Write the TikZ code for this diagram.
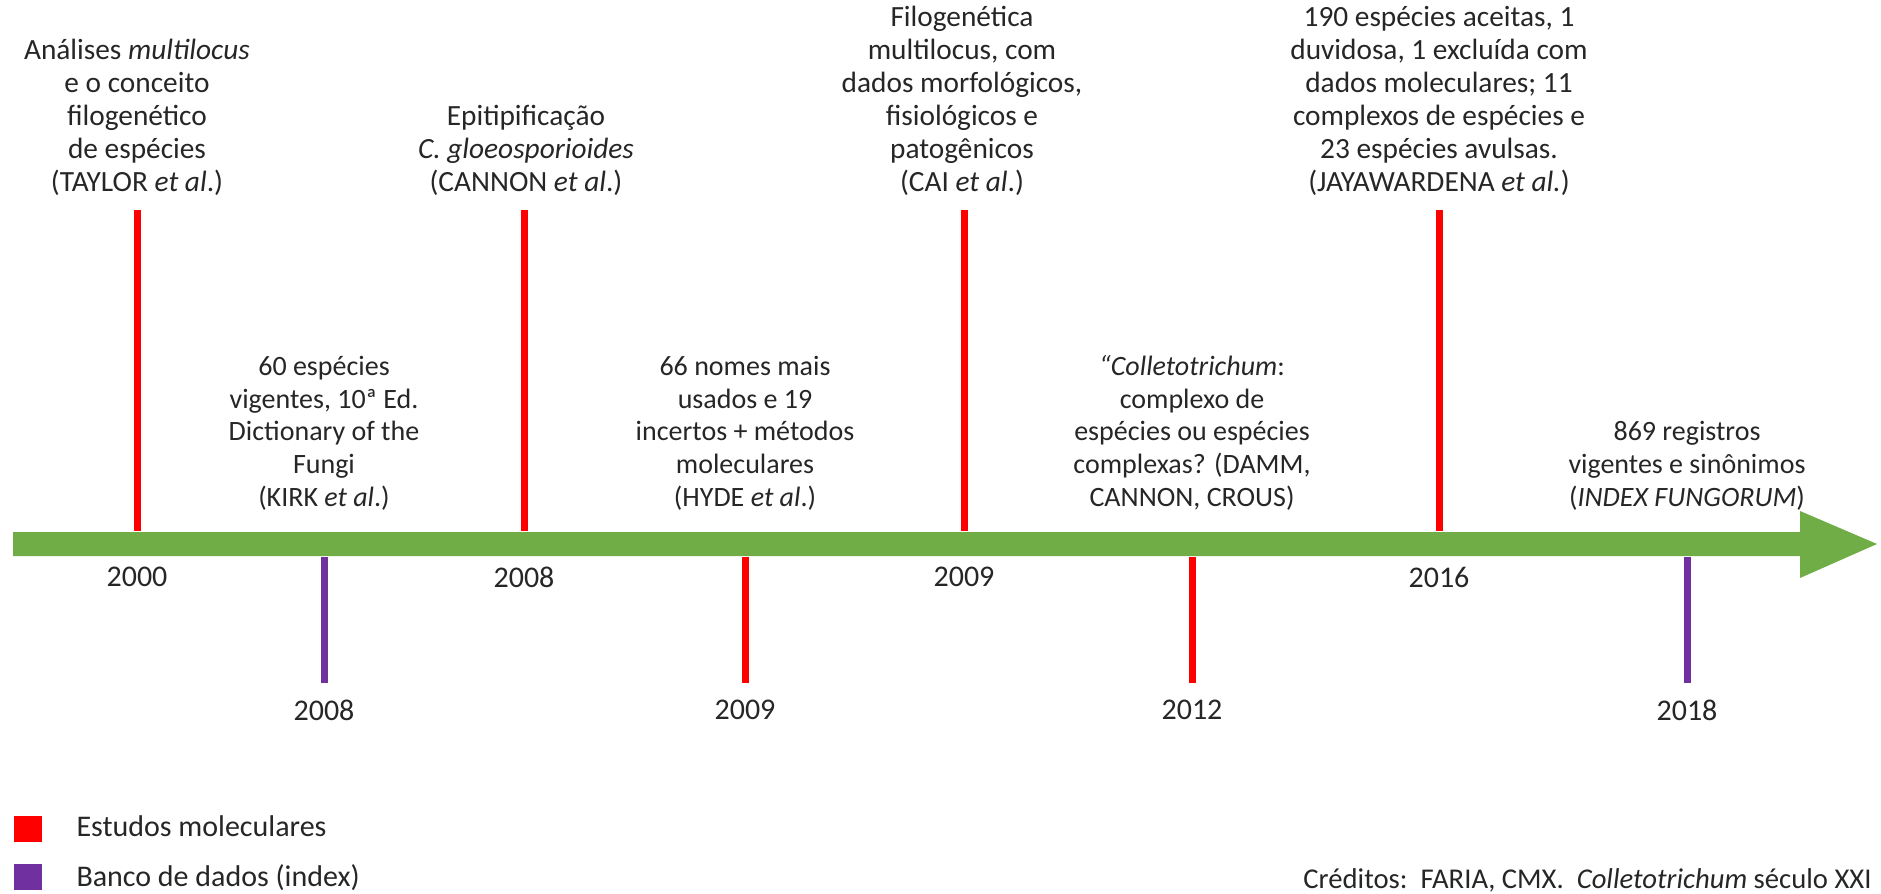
\documentclass[tikz,border=0pt]{standalone}
\usepackage{fontspec}
\setmainfont{Carlito}
\definecolor{molred}{RGB}{255,0,0}
\definecolor{bancopurple}{RGB}{112,48,160}
\definecolor{axisgreen}{RGB}{112,173,71}
\tikzset{every picture/.style={line width=0.75pt}}
\tikzset{
  molec/.style={draw=molred, line width=5.25pt},
  banco/.style={draw=bancopurple, line width=5.25pt},
  evtxt/.style={align=center, inner sep=0pt, anchor=base, text=black!85, font=\fontsize{22}{24.75}\selectfont},
  midtxt/.style={evtxt, font=\fontsize{21}{24.4}\selectfont},
  ano/.style={inner sep=0pt, text=black!85, font=\fontsize{22.5}{24}\selectfont},
  legtxt/.style={inner sep=0pt, anchor=base west, text=black!85, font=\fontsize{22.5}{26}\selectfont},
  legbox/.style={inner sep=0pt, minimum width=21pt, minimum height=19.5pt}
}

\begin{document}
\begin{tikzpicture}[x=0.75pt,y=0.75pt,yscale=-1,xscale=1]
    \useasboundingbox (0,0) rectangle (1881,893);

    %Shape: Arrow (time axis)
    \fill [axisgreen] (13,532) -- (1800,532) -- (1800,511) -- (1877,544) -- (1800,578) -- (1800,556) -- (13,556) -- cycle ;

    % tick ends
    \coordinate (t2000a) at (137,210);  \coordinate (t2000b) at (137,531);
    \coordinate (t2008a) at (524,210);  \coordinate (t2008b) at (524,531);
    \coordinate (t2009a) at (964,210);  \coordinate (t2009b) at (964,531);
    \coordinate (t2016a) at (1439,210); \coordinate (t2016b) at (1439,531);
    \coordinate (b2008a) at (324,557);  \coordinate (b2008b) at (324,683);
    \coordinate (b2009a) at (745,557);  \coordinate (b2009b) at (745,683);
    \coordinate (b2012a) at (1192,557); \coordinate (b2012b) at (1192,683);
    \coordinate (b2018a) at (1687,557); \coordinate (b2018b) at (1687,683);

    %Straight Lines (ticks)
    \draw [molec] (t2000a) -- (t2000b) ;
    \draw [molec] (t2008a) -- (t2008b) ;
    \draw [molec] (t2009a) -- (t2009b) ;
    \draw [molec] (t2016a) -- (t2016b) ;
    \draw [banco] (b2008a) -- (b2008b) ;
    \draw [molec] (b2009a) -- (b2009b) ;
    \draw [molec] (b2012a) -- (b2012b) ;
    \draw [banco] (b2018a) -- (b2018b) ;

    % Text Node (above the ticks)
    \node [evtxt] (taylor) at (137,191) {Análises \textit{multilocus}\\e o conceito\\filogenético\\de espécies\\(TAYLOR \textit{et al}.)};
    \node [evtxt] (cannon) at (526,191) {Epitipificação\\\textit{C. gloeosporioides}\\(CANNON \textit{et al}.)};
    \node [evtxt] (cai) at (962,191) {Filogenética\\multilocus, com\\dados morfológicos,\\fisiológicos e\\patogênicos\\(CAI \textit{et al}.)};
    \node [evtxt] (jaya) at (1439,191) {190 espécies aceitas, 1\\duvidosa, 1 excluída com\\dados moleculares; 11\\complexos de espécies e\\23 espécies avulsas.\\(JAYAWARDENA \textit{et al.})};
    % Text Node (above the axis)
    \node [midtxt] (kirk) at (324,506) {60 espécies\\vigentes, 10ª Ed.\\Dictionary of the\\Fungi\\(KIRK \textit{et al}.)};
    \node [midtxt] (hyde) at (745,506) {66 nomes mais\\usados e 19\\incertos + métodos\\moleculares\\(HYDE \textit{et al}.)};
    \node [midtxt] (damm) at (1192,506) {\textit{“Colletotrichum}:\\complexo de\\espécies ou espécies\\complexas? (DAMM,\\CANNON, CROUS)};
    \node [midtxt] (index) at (1687,506) {869 registros\\vigentes e sinônimos\\(\textit{INDEX FUNGORUM})};

    % Text Node (years)
    \node [ano] (a2000) at (137,577) {2000};
    \node [ano] (a2008) at (524,577) {2008};
    \node [ano] (a2009) at (964,577) {2009};
    \node [ano] (a2016) at (1439,577) {2016};
    \node [ano] (c2008) at (324,710) {2008};
    \node [ano] (c2009) at (745,710) {2009};
    \node [ano] (c2012) at (1192,710) {2012};
    \node [ano] (c2018) at (1687,710) {2018};

    % Legend
    \node [legbox, fill=molred] (legmolec) at (28,829) {};
    \node [legbox, fill=bancopurple] (legbanco) at (28,877) {};
    \node [legtxt] (legmolectxt) at (76,836) {Estudos moleculares};
    \node [legtxt] (legbancotxt) at (76,886) {Banco de dados (index)};

    % Text Node (credits)
    \node [legtxt, anchor=base east, font=\fontsize{21.5}{26}\selectfont] (creditos) at (1872,888) {Créditos:\ \ FARIA, CMX.\ \ \textit{Colletotrichum} século XXI};

\end{tikzpicture}
\end{document}
